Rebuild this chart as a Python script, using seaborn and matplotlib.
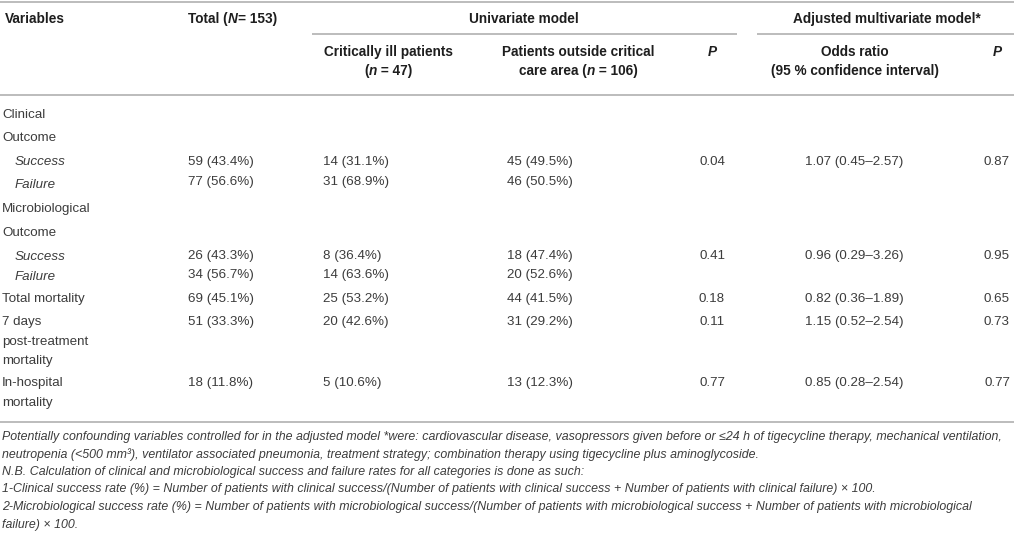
import matplotlib
matplotlib.use("Agg")
import matplotlib.pyplot as plt
import seaborn as sns

# Table values
row_labels = ["Clinical", "Outcome", "Success", "Failure",
              "Microbiological", "Outcome", "Success", "Failure",
              "Total mortality", "7 days", "post-treatment", "mortality",
              "In-hospital", "mortality"]
italic_labels = ["Success", "Failure"]

total_n = [59, 77, 26, 34, 69, 51, 18]
total_pct = [43.4, 56.6, 43.3, 56.7, 45.1, 33.3, 11.8]
crit_n = [14, 31, 8, 14, 25, 20, 5]
crit_pct = [31.1, 68.9, 36.4, 63.6, 53.2, 42.6, 10.6]
out_n = [45, 46, 18, 20, 44, 31, 13]
out_pct = [49.5, 50.5, 47.4, 52.6, 41.5, 29.2, 12.3]
p_uni = [0.04, None, 0.41, None, 0.18, 0.11, 0.77]
odds = [1.07, None, 0.96, None, 0.82, 1.15, 0.85]
odds_lo = [0.45, None, 0.29, None, 0.36, 0.52, 0.28]
odds_hi = [2.57, None, 3.26, None, 1.89, 2.54, 2.54]
p_adj = [0.87, None, 0.95, None, 0.65, 0.73, 0.77]

footnotes = [
    "Potentially confounding variables controlled for in the adjusted model *were: cardiovascular disease, vasopressors given before or \u226424 h of tigecycline therapy, mechanical ventilation,",
    "neutropenia (<500 mm\u00b3), ventilator associated pneumonia, treatment strategy; combination therapy using tigecycline plus aminoglycoside.",
    "N.B. Calculation of clinical and microbiological success and failure rates for all categories is done as such:",
    "1-Clinical success rate (%) = Number of patients with clinical success/(Number of patients with clinical success + Number of patients with clinical failure) \u00d7 100.",
    "2-Microbiological success rate (%) = Number of patients with microbiological success/(Number of patients with microbiological success + Number of patients with microbiological",
    "failure) \u00d7 100.",
]

# Layout (pixel grid of the 1014x534 canvas)
label_y = [115, 138, 162, 185, 209, 233, 257, 277, 299, 322, 342, 361, 383, 403]
value_y = [162, 182, 256, 275, 299, 322, 383]
foot_y = [437, 455, 472, 489, 507, 525]
col_x = {"total": 188, "crit": 323, "out": 507, "p1": 712, "or": 805, "p2": 997}

sns.set_theme(style="white")
plt.rcParams["font.family"] = ["Liberation Sans", "DejaVu Sans"]

HEAD = "#1e1e1e"
BODY = "#3c3c3c"
RULE = "#b0b0b0"
FS_HEAD = 9.8
FS = 9.6
FS_FOOT = 8.9

fig = plt.figure(figsize=(10.14, 5.34), dpi=100)
ax = fig.add_axes([0, 0, 1, 1])
ax.set_xlim(0, 1014)
ax.set_ylim(534, 0)
ax.axis("off")
renderer = fig.canvas.get_renderer()


def text_width(s, **kw):
    t = ax.text(0, 0, s, fontsize=FS_HEAD, **kw)
    bb = t.get_window_extent(renderer=renderer)
    t.remove()
    inv = ax.transData.inverted()
    x0 = inv.transform((bb.x0, bb.y0))[0]
    x1 = inv.transform((bb.x1, bb.y0))[0]
    return x1 - x0


def rich(x, y, parts, ha="left", color=HEAD):
    widths = [text_width(s, **kw) for s, kw in parts]
    total = sum(widths)
    if ha == "center":
        x = x - total / 2
    for (s, kw), w in zip(parts, widths):
        ax.text(x, y, s, fontsize=FS_HEAD, color=color, va="center", ha="left", **kw)
        x += w


B = dict(fontweight="bold")
BI = dict(fontweight="bold", fontstyle="italic")

# Header
rich(5, 19, [("Variables", B)])
rich(188, 19, [("Total (", B), ("N", BI), ("= 153)", B)])
rich(524, 19, [("Univariate model", B)], ha="center")
rich(887, 19, [("Adjusted multivariate model*", B)], ha="center")
rich(388, 52, [("Critically ill patients", B)], ha="center")
rich(388, 71, [("(", B), ("n", BI), (" = 47)", B)], ha="center")
rich(578, 52, [("Patients outside critical", B)], ha="center")
rich(578, 71, [("care area (", B), ("n", BI), (" = 106)", B)], ha="center")
rich(col_x["p1"], 52, [("P", BI)], ha="center")
rich(855, 52, [("Odds ratio", B)], ha="center")
rich(855, 71, [("(95 % confidence interval)", B)], ha="center")
rich(col_x["p2"], 52, [("P", BI)], ha="center")

# Rules
ax.hlines(2, 0, 1014, color=RULE, lw=1.2)
ax.hlines(34, 312, 737, color=RULE, lw=1.2)
ax.hlines(34, 757, 1014, color=RULE, lw=1.2)
ax.hlines(95, 0, 1014, color=RULE, lw=1.2)
ax.hlines(422, 0, 1014, color=RULE, lw=1.2)

# Row labels
for lab, y in zip(row_labels, label_y):
    if lab in italic_labels:
        ax.text(15, y, lab, fontsize=FS, color=BODY, va="center", fontstyle="italic")
    else:
        ax.text(2, y, lab, fontsize=FS, color=BODY, va="center")

# Values
for i, y in enumerate(value_y):
    ax.text(col_x["total"], y, f"{total_n[i]} ({total_pct[i]:.1f}%)", fontsize=FS, color=BODY, va="center")
    ax.text(col_x["crit"], y, f"{crit_n[i]} ({crit_pct[i]:.1f}%)", fontsize=FS, color=BODY, va="center")
    ax.text(col_x["out"], y, f"{out_n[i]} ({out_pct[i]:.1f}%)", fontsize=FS, color=BODY, va="center")
    if p_uni[i] is not None:
        ax.text(col_x["p1"], y, f"{p_uni[i]:.2f}", fontsize=FS, color=BODY, va="center", ha="center")
    if odds[i] is not None:
        ax.text(col_x["or"], y, f"{odds[i]:.2f} ({odds_lo[i]:.2f}\u2013{odds_hi[i]:.2f})",
                fontsize=FS, color=BODY, va="center")
    if p_adj[i] is not None:
        ax.text(col_x["p2"], y, f"{p_adj[i]:.2f}", fontsize=FS, color=BODY, va="center", ha="center")

# Footnotes
for line, y in zip(footnotes, foot_y):
    ax.text(2, y, line, fontsize=FS_FOOT, color=BODY, va="center", fontstyle="italic")

fig.savefig("out.png", dpi=100)
